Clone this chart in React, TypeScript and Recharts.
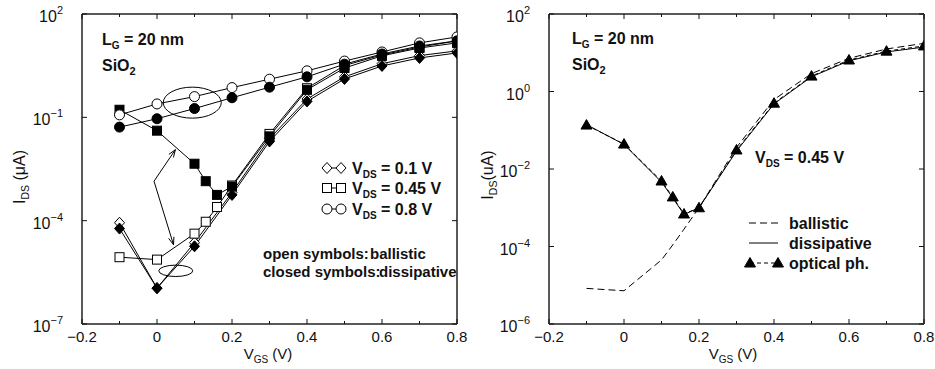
import React from 'react';
import { LineChart, Line, XAxis, YAxis, ReferenceDot, ReferenceLine } from 'recharts';

const FONT = '"Liberation Sans", Arial, Helvetica, sans-serif';
const INK = '#111';

// gate voltage sweeps (V)
const vgs = [-0.1, 0, 0.1, 0.2, 0.3, 0.4, 0.5, 0.6, 0.7, 0.8];
const vgsFine = [-0.1, 0, 0.1, 0.13, 0.16, 0.2, 0.3, 0.4, 0.5, 0.6, 0.7, 0.8];

// left panel: I_DS (uA) for three drain biases
const ballistic01 = [8.7e-5, 1.1e-6, 2.3e-5, 6.6e-4, 0.024, 0.34, 1.5, 3.6, 6.2, 8.5];
const dissipative01 = [5.9e-5, 1.1e-6, 1.8e-5, 5.6e-4, 0.02, 0.29, 1.3, 3.1, 5.3, 7.4];
const ballistic045 = [8.7e-6, 7.4e-6, 4.2e-5, 9.3e-5, 2.5e-4, 1.05e-3, 0.033, 0.7, 3.2, 6.5, 11, 16.6];
const dissipative045 = [0.166, 0.041, 0.0045, 0.0014, 5.6e-4, 9.8e-4, 0.028, 0.63, 2.7, 6.1, 10.3, 14.5];
const ballistic08 = [0.118, 0.245, 0.4, 0.73, 1.28, 2.24, 4.3, 7.9, 14.5, 21.6];
const dissipative08 = [0.052, 0.091, 0.18, 0.37, 0.75, 1.5, 3.5, 6.9, 11.8, 16.6];

// right panel: V_DS = 0.45 V
const ballisticR = [8.3e-6, 7.2e-6, 4.5e-5, 1.1e-4, 2.8e-4, 1e-3, 0.036, 0.62, 2.9, 7.2, 12.5, 17.5];
const dissipativeR = [0.14, 0.043, 0.0046, 0.0018, 6.7e-4, 1e-3, 0.029, 0.48, 2.4, 6.2, 10.5, 14];
const opticalR = [0.136, 0.044, 0.0049, 0.0019, 6.9e-4, 1e-3, 0.031, 0.5, 2.5, 6.5, 11, 15];

const xTicks = [-0.2, -0.1, 0, 0.1, 0.2, 0.3, 0.4, 0.5, 0.6, 0.7, 0.8];
const yTicksLeft = [1e-7, 1e-4, 1e-1, 1e2];
const yTicksRight = [1e-6, 1e-4, 1e-2, 1, 1e2];

// annotation anchors (data units, left panel)
const ellipseTop = { x: 0.094, y: 0.267 };
const ellipseLow = { x: 0.05, y: 3.5e-6 };
const arrowFrom = { x: -0.008, y: 1.4e-3 };
const arrowUp = { x: 0.049, y: 0.0115 };
const arrowDown = { x: 0.044, y: 2e-5 };

const pts = (xs: number[], ys: number[]) => xs.map((x, i) => ({ x, y: ys[i] }));

type Shape = 'diamond' | 'square' | 'circle' | 'triangle';

const Marker = ({ shape, filled, cx, cy }: { shape: Shape; filled: boolean; cx: number; cy: number }) => {
    const s = { fill: filled ? '#000' : '#fff', stroke: '#000', strokeWidth: 1 };
    if (shape === 'circle') return <circle cx={cx} cy={cy} r={5} {...s} />;
    if (shape === 'square') return <rect x={cx - 4.5} y={cy - 4.5} width={9} height={9} {...s} />;
    if (shape === 'diamond')
        return <polygon points={`${cx},${cy - 5.5} ${cx + 5},${cy} ${cx},${cy + 5.5} ${cx - 5},${cy}`} {...s} />;
    return <polygon points={`${cx},${cy - 5.5} ${cx + 5.5},${cy + 4} ${cx - 5.5},${cy + 4}`} {...s} />;
};

const dotOf = (shape: Shape, filled: boolean) => (p: any) => (
    <Marker key={`${shape}-${filled}-${p.index}`} shape={shape} filled={filled} cx={p.cx} cy={p.cy} />
);

const leftSeries = [
    { id: 'b01', xs: vgs, ys: ballistic01, shape: 'diamond' as Shape, filled: false },
    { id: 'd01', xs: vgs, ys: dissipative01, shape: 'diamond' as Shape, filled: true },
    { id: 'b045', xs: vgsFine, ys: ballistic045, shape: 'square' as Shape, filled: false },
    { id: 'd045', xs: vgsFine, ys: dissipative045, shape: 'square' as Shape, filled: true },
    { id: 'b08', xs: vgs, ys: ballistic08, shape: 'circle' as Shape, filled: false },
    { id: 'd08', xs: vgs, ys: dissipative08, shape: 'circle' as Shape, filled: true },
];

const fmtX = (v: number) => (Math.abs(v) < 1e-9 ? '0' : (v < 0 ? '\u2212' : '') + Math.abs(v).toFixed(1));
const isMajor = (v: number) => Math.round(v * 10) % 2 === 0;

const BottomTick = ({ x, y, payload }: any) => {
    const v = payload.value;
    return (
        <g>
            <line x1={x} x2={x} y1={y} y2={y - (isMajor(v) ? 5 : 3)} stroke={INK} />
            {isMajor(v) && (
                <text x={x} y={y + 18} textAnchor="middle" fontSize={15} fill={INK} fontFamily={FONT}>
                    {fmtX(v)}
                </text>
            )}
        </g>
    );
};

const TopTick = ({ x, y, payload }: any) => (
    <line x1={x} x2={x} y1={y} y2={y + (isMajor(payload.value) ? 5 : 3)} stroke={INK} />
);

const LeftTick = ({ x, y, payload }: any) => {
    const e = Math.round(Math.log10(payload.value));
    return (
        <g>
            <line x1={x} x2={x + 5} y1={y} y2={y} stroke={INK} />
            <text x={x - 19} y={y + 8} textAnchor="end" fill={INK} fontFamily={FONT}>
                <tspan fontSize={16}>10</tspan>
                <tspan fontSize={11} dy={-8}>{e < 0 ? '\u2212' + -e : String(e)}</tspan>
            </text>
        </g>
    );
};

const RightTick = ({ x, y }: any) => <line x1={x} x2={x - 5} y1={y} y2={y} stroke={INK} />;

const Ellipse = (rx: number, ry: number) => (p: any) => (
    <ellipse cx={p.cx} cy={p.cy} rx={rx} ry={ry} fill="none" stroke="#000" strokeWidth={1} />
);

const Arrow = (p: any) => {
    const { x1, y1, x2, y2 } = p;
    const a = Math.atan2(y2 - y1, x2 - x1);
    const L = 8;
    const w = 0.35;
    return (
        <g stroke="#000" strokeWidth={1} fill="none">
            <line x1={x1} y1={y1} x2={x2} y2={y2} />
            <line x1={x2} y1={y2} x2={x2 - L * Math.cos(a - w)} y2={y2 - L * Math.sin(a - w)} />
            <line x1={x2} y1={y2} x2={x2 - L * Math.cos(a + w)} y2={y2 - L * Math.sin(a + w)} />
        </g>
    );
};

const axisLine = { stroke: '#222', strokeWidth: 1.5 };

const Sub = ({ children, size = 10 }: { children: string; size?: number }) => (
    <tspan fontSize={size} dy={4}>{children}</tspan>
);

// frame: bottom/top x axes and left/right log axes, all ticks pointing inward
const axes = (yDomain: [number, number], yTicks: number[]) => [
    <XAxis key="xb" xAxisId="b" dataKey="x" type="number" domain={[-0.2, 0.8]} ticks={xTicks} interval={0}
        height={1} tickSize={0} tickMargin={0} tickLine={false} axisLine={axisLine} tick={<BottomTick />} allowDataOverflow />,
    <XAxis key="xt" xAxisId="t" orientation="top" dataKey="x" type="number" domain={[-0.2, 0.8]} ticks={xTicks} interval={0}
        height={1} tickSize={0} tickMargin={0} tickLine={false} axisLine={axisLine} tick={<TopTick />} allowDataOverflow />,
    <YAxis key="yl" yAxisId="l" dataKey="y" type="number" scale="log" domain={yDomain} ticks={yTicks} interval={0}
        width={1} tickSize={0} tickMargin={0} tickLine={false} axisLine={axisLine} tick={<LeftTick />} allowDataOverflow />,
    <YAxis key="yr" yAxisId="r" orientation="right" dataKey="y" type="number" scale="log" domain={yDomain} ticks={yTicks} interval={0}
        width={1} tickSize={0} tickMargin={0} tickLine={false} axisLine={axisLine} tick={<RightTick />} allowDataOverflow />,
];

export default function App() {
    const text = { fontFamily: FONT, fill: INK };

    return (
        <div style={{ position: 'absolute', left: 0, top: 0, width: 935, height: 369, background: '#fff' }}>
            <div style={{ position: 'absolute', left: 0, top: 0 }}>
                <LineChart width={470} height={369} margin={{ top: 13, right: 12, bottom: 44, left: 81 }}>
                    {axes([1e-7, 100], yTicksLeft)}
                    <ReferenceDot xAxisId="b" yAxisId="l" x={ellipseTop.x} y={ellipseTop.y} r={1} shape={Ellipse(29, 15.5)} />
                    <ReferenceDot xAxisId="b" yAxisId="l" x={ellipseLow.x} y={ellipseLow.y} r={1} shape={Ellipse(17, 5.7)} />
                    <ReferenceLine xAxisId="b" yAxisId="l" segment={[arrowFrom, arrowUp]} shape={Arrow} />
                    <ReferenceLine xAxisId="b" yAxisId="l" segment={[arrowFrom, arrowDown]} shape={Arrow} />
                    {leftSeries.map((s) => (
                        <Line key={s.id} xAxisId="b" yAxisId="l" data={pts(s.xs, s.ys)} dataKey="y" type="linear"
                            stroke="#000" strokeWidth={1} dot={dotOf(s.shape, s.filled)} activeDot={false}
                            isAnimationActive={false} />
                    ))}
                </LineChart>
            </div>
            <div style={{ position: 'absolute', left: 470, top: 0 }}>
                <LineChart width={465} height={369} margin={{ top: 13, right: 10, bottom: 44, left: 78 }}>
                    {axes([1e-6, 100], yTicksRight)}
                    <Line xAxisId="b" yAxisId="l" data={pts(vgsFine, ballisticR)} dataKey="y" type="linear" stroke="#000"
                        strokeWidth={1} strokeDasharray="7 4" dot={false} activeDot={false} isAnimationActive={false} />
                    <Line xAxisId="b" yAxisId="l" data={pts(vgsFine, dissipativeR)} dataKey="y" type="linear" stroke="#000"
                        strokeWidth={1} dot={false} activeDot={false} isAnimationActive={false} />
                    <Line xAxisId="b" yAxisId="l" data={pts(vgsFine, opticalR)} dataKey="y" type="linear" stroke="#000"
                        strokeWidth={1} strokeDasharray="4 3" dot={dotOf('triangle', true)} activeDot={false}
                        isAnimationActive={false} />
                </LineChart>
            </div>

            <svg width={935} height={369} style={{ position: 'absolute', left: 0, top: 0, pointerEvents: 'none' }}>
                {/* left panel labels */}
                <text x={102} y={45} fontSize={16} fontWeight="bold" {...text}>
                    L<Sub>G</Sub><tspan dy={-4}> = 20 nm</tspan>
                </text>
                <text x={102} y={71} fontSize={16} fontWeight="bold" {...text}>
                    SiO<Sub size={11}>2</Sub>
                </text>
                <text transform="translate(25,177) rotate(-90)" textAnchor="middle" fontSize={16} {...text}>
                    I<Sub size={10.5}>DS</Sub><tspan dy={-4}> (μA)</tspan>
                </text>
                <text x={268} y={359} textAnchor="middle" fontSize={15} {...text}>
                    V<Sub size={10}>GS</Sub><tspan dy={-4}> (V)</tspan>
                </text>

                {[
                    { shape: 'diamond' as Shape, label: '0.1 V', y: 168 },
                    { shape: 'square' as Shape, label: '0.45 V', y: 188 },
                    { shape: 'circle' as Shape, label: '0.8 V', y: 209 },
                ].map((r) => (
                    <g key={r.label}>
                        <line x1={327} x2={341} y1={r.y} y2={r.y} stroke="#000" />
                        <Marker shape={r.shape} filled={false} cx={327} cy={r.y} />
                        <Marker shape={r.shape} filled={false} cx={341} cy={r.y} />
                        <text x={352} y={r.y + 6} fontSize={16} fontWeight="bold" {...text}>
                            V<Sub>DS</Sub><tspan dy={-4}>{` = ${r.label}`}</tspan>
                        </text>
                    </g>
                ))}
                <text x={263} y={259} fontSize={15} fontWeight="bold" {...text}>open symbols:</text>
                <text x={370} y={259} fontSize={15} fontWeight="bold" {...text}>ballistic</text>
                <text x={263} y={277} fontSize={15} fontWeight="bold" {...text}>closed symbols:</text>
                <text x={379} y={277} fontSize={15} fontWeight="bold" {...text}>dissipative</text>

                {/* right panel labels */}
                <text x={572} y={44} fontSize={16} fontWeight="bold" {...text}>
                    L<Sub>G</Sub><tspan dy={-4}> = 20 nm</tspan>
                </text>
                <text x={572} y={70} fontSize={16} fontWeight="bold" {...text}>
                    SiO<Sub size={11}>2</Sub>
                </text>
                <text x={755} y={163} fontSize={16} fontWeight="bold" {...text}>
                    V<Sub>DS</Sub><tspan dy={-4}> = 0.45 V</tspan>
                </text>
                <text transform="translate(493,175) rotate(-90)" textAnchor="middle" fontSize={16} {...text}>
                    I<Sub size={10.5}>DS</Sub><tspan dy={-4}>(uA)</tspan>
                </text>
                <text x={733} y={359} textAnchor="middle" fontSize={15} {...text}>
                    V<Sub size={10}>GS</Sub><tspan dy={-4}> (V)</tspan>
                </text>

                <line x1={749} x2={778} y1={223} y2={223} stroke="#000" strokeDasharray="7 4" />
                <text x={789} y={229} fontSize={16} fontWeight="bold" {...text}>ballistic</text>
                <line x1={749} x2={778} y1={243} y2={243} stroke="#000" />
                <text x={789} y={249} fontSize={16} fontWeight="bold" {...text}>dissipative</text>
                <line x1={750} x2={778} y1={263} y2={263} stroke="#000" strokeDasharray="4 3" />
                <Marker shape="triangle" filled cx={750} cy={263} />
                <Marker shape="triangle" filled cx={778} cy={263} />
                <text x={789} y={269} fontSize={16} fontWeight="bold" {...text}>optical ph.</text>
            </svg>
        </div>
    );
}
